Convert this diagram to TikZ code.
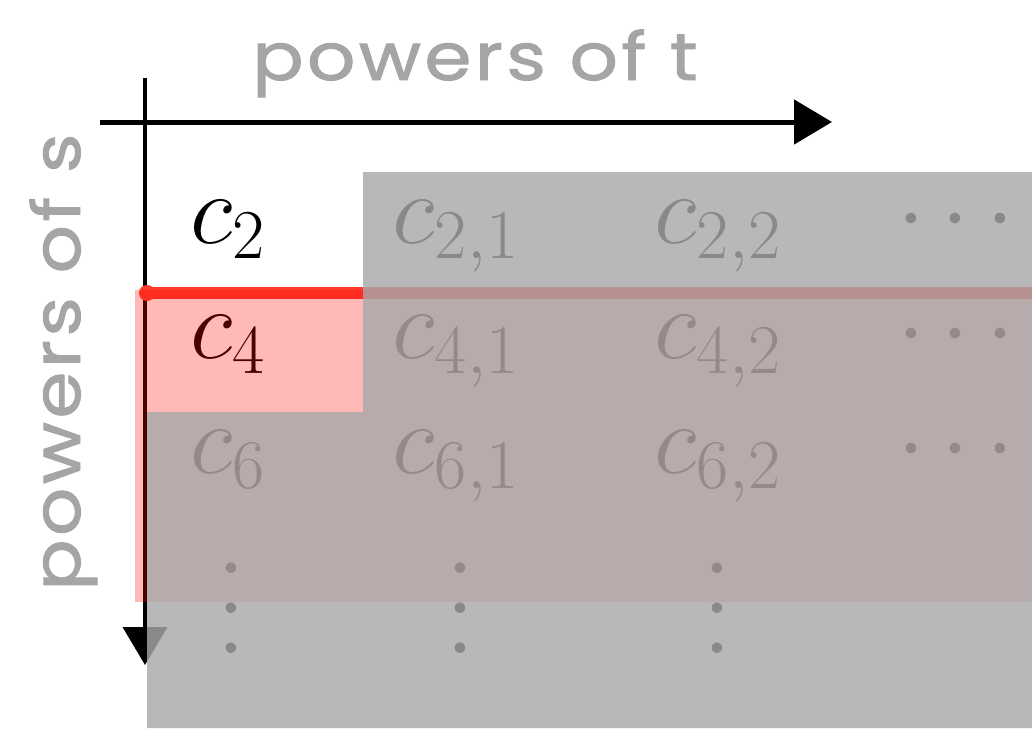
\RequirePackage{fix-cm}
\documentclass[tikz,border=0pt]{standalone}
\usepackage{fontspec}
\newfontfamily\handfont{Poppins}[FakeStretch=1.15, FakeBold=1.5, LetterSpace=5]
\usetikzlibrary{arrows.meta}
\definecolor{labelgray}{RGB}{163,166,164}
\definecolor{markred}{RGB}{255,58,45}
\definecolor{veilred}{RGB}{255,10,0}
\definecolor{shadegray}{RGB}{168,168,168}
\newcommand{\colvdots}{\scalebox{5}{\normalsize$\vdots$}}

\begin{document}
\begin{tikzpicture}[x=0.5pt, y=-0.5pt, >={Triangle[length=19pt,width=22pt]},
  entry/.style={anchor=base, inner sep=0pt, font=\fontsize{50}{60}\selectfont},
  axislabel/.style={text=labelgray, inner sep=0pt, anchor=base, font=\handfont\fontsize{33}{38}\selectfont}]
  \useasboundingbox (0,0) rectangle (1032,728);
  % axes
  \coordinate (t0) at (100,122);
  \coordinate (t1) at (832,122);
  \coordinate (s0) at (145,78);
  \coordinate (s1) at (145,665);
  \draw[line width=2.5pt, ->] (t0) -- (t1);
  \draw[line width=2pt, ->] (s0) -- (s1);
  \node[axislabel] (tlabel) at (475,80) {powers of t};
  \node[axislabel, rotate=90] (slabel) at (80,362) {powers of s};
  % coefficients
  \node[entry] (c2)  at (228,243) {$c_2$};
  \node[entry] (c21) at (456,243) {$c_{2,1}$};
  \node[entry] (c22) at (718,243) {$c_{2,2}$};
  \node[entry] (c2x) at (956,243) {$\cdots$};
  \node[entry] (c4)  at (228,358) {$c_4$};
  \node[entry] (c41) at (456,358) {$c_{4,1}$};
  \node[entry] (c42) at (718,358) {$c_{4,2}$};
  \node[entry] (c4x) at (956,358) {$\cdots$};
  \node[entry] (c6)  at (228,473) {$c_6$};
  \node[entry] (c61) at (456,473) {$c_{6,1}$};
  \node[entry] (c62) at (718,473) {$c_{6,2}$};
  \node[entry] (c6x) at (956,473) {$\cdots$};
  \node[inner sep=0pt] (v0) at (231,578) {\colvdots};
  \node[inner sep=0pt] (v1) at (460,578) {\colvdots};
  \node[inner sep=0pt] (v2) at (717,578) {\colvdots};
  % shading
  \draw[markred, line width=6pt, line cap=round] (147,293) -- (1040,293);
  \fill[markred] (147,293) circle (8);
  \fill[veilred, opacity=0.285] (135,290) rectangle (1032,602);
  \fill[shadegray, opacity=0.82] (363,172) -- (1032,172) -- (1032,728)
    -- (147,728) -- (147,412) -- (363,412) -- cycle;
\end{tikzpicture}
\end{document}
